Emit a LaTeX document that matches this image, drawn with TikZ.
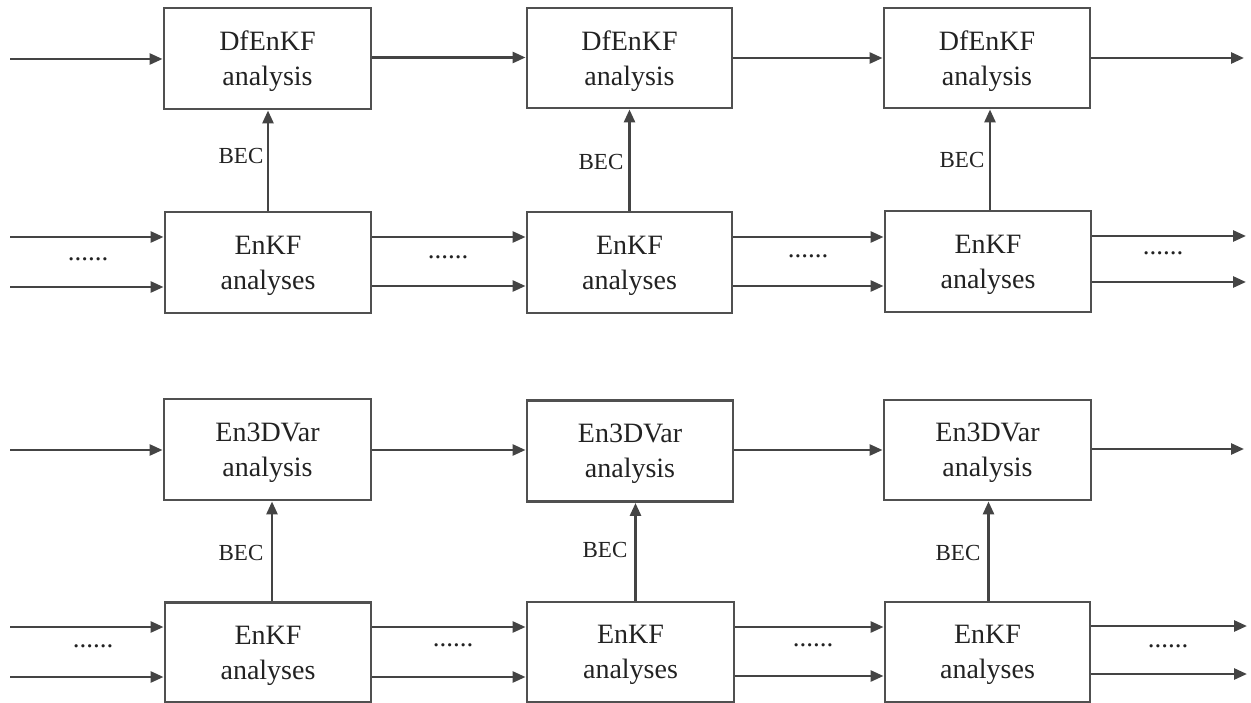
\documentclass[tikz,border=0pt]{standalone}
\usepackage{fontspec}
\setmainfont{Liberation Serif}
\usetikzlibrary{arrows.meta}
\definecolor{linec}{HTML}{444444}
\definecolor{boxc}{HTML}{505050}
\definecolor{textc}{HTML}{222222}
\tikzset{
  box/.style={draw=boxc, line width=2.9pt, rectangle, inner sep=0pt, align=center,
    text=textc, font=\fontsize{28}{35}\selectfont, text depth=0pt},
  arr/.style={draw=linec, line width=2.7pt, -{Triangle[length=13pt,width=11pt]}},
  lab/.style={text=textc, font=\fontsize{23}{26}\selectfont, inner sep=0pt},
  dots/.style={text=textc, font=\fontsize{27}{30}\selectfont, inner sep=0pt}
}
\begin{document}
\begin{tikzpicture}[x=1pt,y=-1pt]
\useasboundingbox (0,0) rectangle (1251,703);
% row 1
\node[box, minimum width=207pt, minimum height=101pt] (b11) at (267.5,58.5) {DfEnKF\\analysis};
\node[box, minimum width=205pt, minimum height=100pt] (b12) at (629.5,58) {DfEnKF\\analysis};
\node[box, minimum width=206pt, minimum height=100pt] (b13) at (987,58) {DfEnKF\\analysis};
% row 2
\node[box, minimum width=206pt, minimum height=101pt] (b21) at (268,262.5) {EnKF\\analyses};
\node[box, minimum width=205pt, minimum height=101pt] (b22) at (629.5,262.5) {EnKF\\analyses};
\node[box, minimum width=206pt, minimum height=101pt] (b23) at (988,261.5) {EnKF\\analyses};
% row 3
\node[box, minimum width=207pt, minimum height=101pt] (b31) at (267.5,449.5) {En3DVar\\analysis};
\node[box, minimum width=206pt, minimum height=101pt] (b32) at (630,451) {En3DVar\\analysis};
\node[box, minimum width=207pt, minimum height=100pt] (b33) at (987.5,450) {En3DVar\\analysis};
% row 4
\node[box, minimum width=206pt, minimum height=100pt] (b41) at (268,652.5) {EnKF\\analyses};
\node[box, minimum width=207pt, minimum height=100pt] (b42) at (630.5,652) {EnKF\\analyses};
\node[box, minimum width=205pt, minimum height=100pt] (b43) at (987.5,652) {EnKF\\analyses};

% free-end coordinates
\coordinate (i1) at (10,59);
\coordinate (o1) at (1244,58);
\coordinate (i2a) at (10,237);
\coordinate (i2b) at (10,287);
\coordinate (o2a) at (1246,236);
\coordinate (o2b) at (1246,282);
\coordinate (i3) at (10,450);
\coordinate (o3) at (1244,449);
\coordinate (i4a) at (10,627);
\coordinate (i4b) at (10,677);
\coordinate (o4a) at (1247,626);
\coordinate (o4b) at (1247,674);

% row 1 arrows
\draw[arr] (i1) -- (i1 -| b11.west);
\draw[arr] ([yshift=1pt]b11.east) -- ([yshift=1pt]b11.east -| b12.west);
\draw[arr] (b12.east) -- (b12.east -| b13.west);
\draw[arr] (b13.east) -- (o1);
% row 2 arrows
\draw[arr] (i2a) -- (i2a -| b21.west);
\draw[arr] (i2b) -- (i2b -| b21.west);
\draw[arr] (b21.east |- 0,237) -- (b22.west |- 0,237);
\draw[arr] (b21.east |- 0,286) -- (b22.west |- 0,286);
\draw[arr] (b22.east |- 0,237) -- (b23.west |- 0,237);
\draw[arr] (b22.east |- 0,286) -- (b23.west |- 0,286);
\draw[arr] (o2a -| b23.east) -- (o2a);
\draw[arr] (o2b -| b23.east) -- (o2b);
% row 3 arrows
\draw[arr] (i3) -- (i3 -| b31.west);
\draw[arr] (b31.east |- 0,450) -- (b32.west |- 0,450);
\draw[arr] (b32.east |- 0,450) -- (b33.west |- 0,450);
\draw[arr] (o3 -| b33.east) -- (o3);
% row 4 arrows
\draw[arr] (i4a) -- (i4a -| b41.west);
\draw[arr] (i4b) -- (i4b -| b41.west);
\draw[arr] (b41.east |- 0,627) -- (b42.west |- 0,627);
\draw[arr] (b41.east |- 0,677) -- (b42.west |- 0,677);
\draw[arr] (b42.east |- 0,627) -- (b43.west |- 0,627);
\draw[arr] (b42.east |- 0,676) -- (b43.west |- 0,676);
\draw[arr] (o4a -| b43.east) -- (o4a);
\draw[arr] (o4b -| b43.east) -- (o4b);

% BEC arrows
\draw[arr] (b21.north) -- (b21.north |- b11.south);
\draw[arr] (b22.north) -- (b22.north |- b12.south);
\draw[arr] ([xshift=2pt]b23.north) -- ([xshift=2pt]b23.north |- b13.south);
\draw[arr] ([xshift=4pt]b41.north) -- ([xshift=4pt]b41.north |- b31.south);
\draw[arr] ([xshift=5pt]b42.north) -- ([xshift=5pt]b42.north |- b32.south);
\draw[arr] ([xshift=1pt]b43.north) -- ([xshift=1pt]b43.north |- b33.south);

% BEC labels
\node[lab] (l1) at (241,156) {BEC};
\node[lab] (l2) at (601,162) {BEC};
\node[lab] (l3) at (962,160) {BEC};
\node[lab] (l4) at (241,553) {BEC};
\node[lab] (l5) at (605,550) {BEC};
\node[lab] (l6) at (958,553) {BEC};

% dots
\node[dots] (d1) at (88,259) {......};
\node[dots] (d2) at (448,257) {......};
\node[dots] (d3) at (808,256) {......};
\node[dots] (d4) at (1163,253) {......};
\node[dots] (d5) at (93,646) {......};
\node[dots] (d6) at (453,645) {......};
\node[dots] (d7) at (813,645) {......};
\node[dots] (d8) at (1168,646) {......};
\end{tikzpicture}
\end{document}
